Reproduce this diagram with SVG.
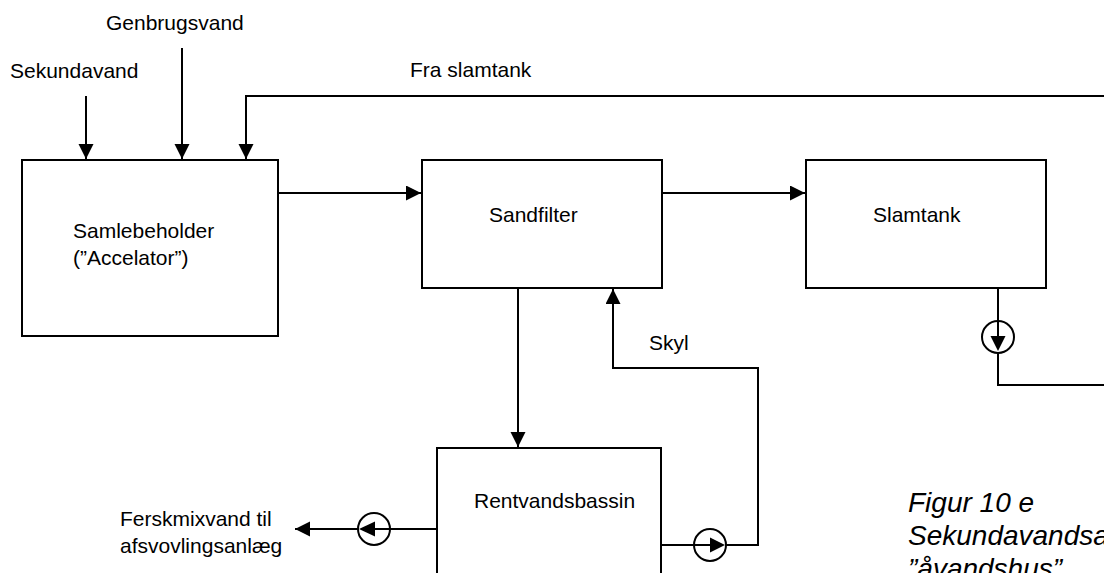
<svg xmlns="http://www.w3.org/2000/svg" width="1104" height="573" viewBox="0 0 1104 573">
<style>
.box{fill:#fff;stroke:#000;stroke-width:2}
.ln{fill:none;stroke:#000;stroke-width:2}
.arr{marker-end:url(#ah)}
.t{font-family:"Liberation Sans",Arial,sans-serif;font-size:21px;fill:#000}
.cap{font-family:"Liberation Sans",Arial,sans-serif;font-size:28px;font-style:italic;fill:#000}
.pc{fill:#fff;stroke:#000;stroke-width:2}
.tri{fill:#000}
</style>
<defs>
<marker id="ah" markerUnits="userSpaceOnUse" markerWidth="16" markerHeight="16" refX="15" refY="7.5" orient="auto">
<path d="M0,0 L15,7.5 L0,15 z" fill="#000"/>
</marker>
</defs>
<rect width="1104" height="573" fill="#fff"/>
<g id="connectors">
<line class="ln arr" x1="86" y1="96" x2="86" y2="159"/>
<line class="ln arr" x1="182" y1="48" x2="182" y2="159"/>
<polyline class="ln arr" points="1104,96 246,96 246,159"/>
<line class="ln arr" x1="278" y1="193" x2="421" y2="193"/>
<line class="ln arr" x1="662" y1="193" x2="805" y2="193"/>
<line class="ln arr" x1="518" y1="288" x2="518" y2="447"/>
<polyline class="ln arr" points="661,545 758,545 758,368 613,368 613,289"/>
<polyline class="ln" points="998,288 998,385 1104,385"/>
<line class="ln arr" x1="437" y1="529" x2="295" y2="529"/>
</g>
<g id="labels">
<text class="t" x="106" y="30">Genbrugsvand</text>
<text class="t" x="10" y="78">Sekundavand</text>
<text class="t" x="410" y="77">Fra slamtank</text>
<text class="t" x="649" y="350">Skyl</text>
<text class="t" x="120" y="526">Ferskmixvand til</text>
<text class="t" x="120" y="553">afsvovlingsanlæg</text>
</g>
<g id="samlebeholder">
<rect class="box" x="22" y="160" width="256" height="176"/>
<text class="t" x="73" y="238">Samlebeholder</text>
<text class="t" x="73" y="265">(”Accelator”)</text>
</g>
<g id="sandfilter">
<rect class="box" x="422" y="160" width="240" height="128"/>
<text class="t" x="489" y="222">Sandfilter</text>
</g>
<g id="slamtank">
<rect class="box" x="806" y="160" width="240" height="128"/>
<text class="t" x="873" y="222">Slamtank</text>
</g>
<g id="rentvandsbassin">
<rect class="box" x="437" y="448" width="224" height="140"/>
<text class="t" x="474" y="508">Rentvandsbassin</text>
</g>
<g id="pump-slamtank">
<circle class="pc" cx="998" cy="337" r="16"/>
<line class="ln" x1="998" y1="321" x2="998" y2="340"/>
<polygon class="tri" points="990.5,336 1005.5,336 998,351"/>
</g>
<g id="pump-ferskmix">
<circle class="pc" cx="374" cy="529" r="16"/>
<line class="ln" x1="390" y1="529" x2="370" y2="529"/>
<polygon class="tri" points="375,521.5 375,536.5 359,529"/>
</g>
<g id="pump-skyl">
<circle class="pc" cx="710" cy="545" r="16"/>
<line class="ln" x1="694" y1="545" x2="712" y2="545"/>
<polygon class="tri" points="710,537.5 710,552.5 725,545"/>
</g>
<g id="caption">
<text class="cap" x="908" y="512">Figur 10 e</text>
<text class="cap" x="908" y="545">Sekundavandsanlæg</text>
<text class="cap" x="908" y="578">”åvandshus”</text>
</g>
</svg>
